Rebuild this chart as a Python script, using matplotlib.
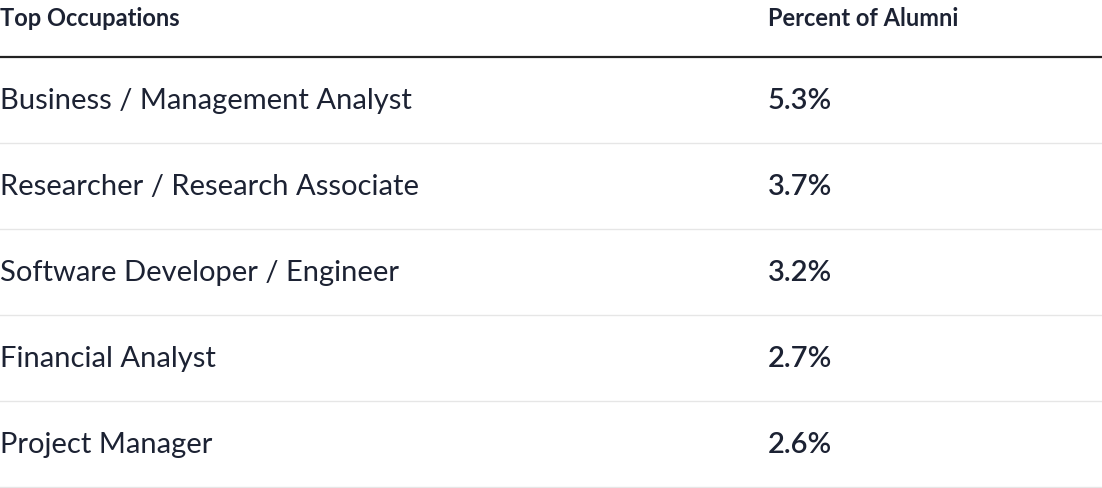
import matplotlib.pyplot as plt

occupations = ["Business / Management Analyst", "Researcher / Research Associate",
               "Software Developer / Engineer", "Financial Analyst", "Project Manager"]
percents = [5.3, 3.7, 3.2, 2.7, 2.6]
headers = ["Top Occupations", "Percent of Alumni"]

ink = "#1c2233"
fig = plt.figure(figsize=(11.02, 4.88), dpi=100)
ax = fig.add_axes([0, 0, 1, 1])
ax.set_xlim(0, 1102)
ax.set_ylim(488, 0)
ax.axis("off")

col_x = [0, 768]
ax.text(col_x[0], 19, headers[0], fontsize=17, fontfamily="Lato", fontweight="bold",
        color=ink, va="center")
ax.text(col_x[1], 19, headers[1], fontsize=17, fontfamily="Lato", fontweight="bold",
        color=ink, va="center")
ax.plot([0, 1102], [57, 57], color="#222", lw=1.6)

row_h = 86
for i, (occ, pct) in enumerate(zip(occupations, percents)):
    yc = 101 + i * row_h
    ax.text(col_x[0], yc, occ, fontsize=21, fontfamily="Lato", color=ink, va="center")
    ax.text(col_x[1], yc, f"{pct}%", fontsize=21, fontfamily="Lato", fontweight="semibold",
            color=ink, va="center")
    ax.plot([0, 1102], [yc + 42, yc + 42], color="#e6e6e6", lw=1)

fig.savefig("out.png", dpi=100, facecolor="white")
